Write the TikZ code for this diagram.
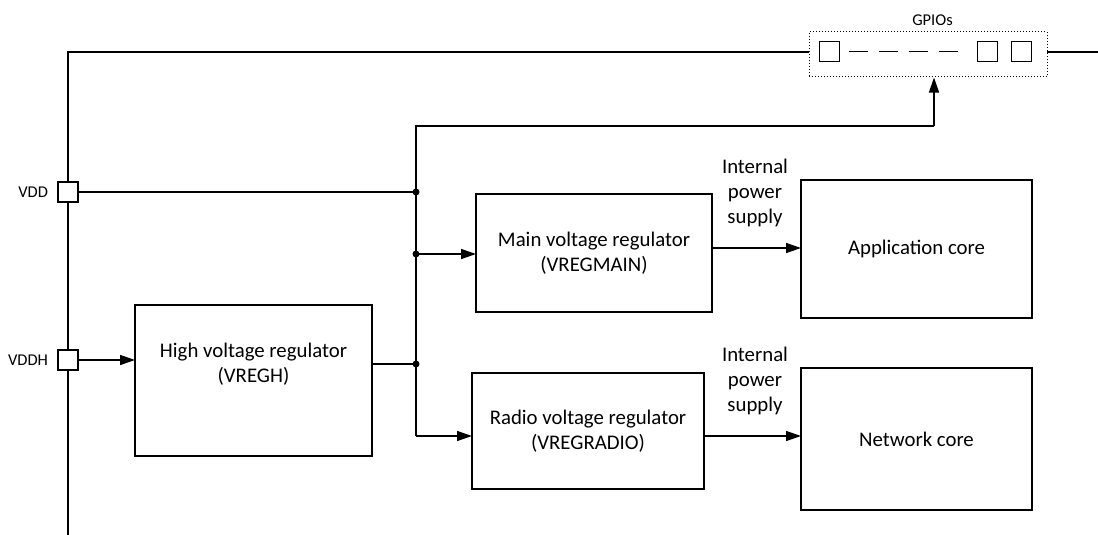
\documentclass[tikz,border=0pt]{standalone}
\usepackage{fontspec}
\setmainfont{Carlito}
\usetikzlibrary{arrows.meta}
\begin{document}
\begin{tikzpicture}[x=1pt,y=-1pt,
  line width=1.4pt,
  arr/.style={-{Triangle[length=15pt,width=10pt]}},
  blk/.style={draw,rectangle,inner sep=0pt,outer sep=0pt},
  pin/.style={draw,fill=white,rectangle,minimum width=20pt,minimum height=20pt,inner sep=0pt,outer sep=0pt},
  big/.style={font=\fontsize{20.8}{25}\selectfont,align=center},
  small/.style={font=\fontsize{16.5}{19}\selectfont},
  dot/.style={circle,fill=black,inner sep=0pt,minimum size=7pt}
]
\useasboundingbox (0,0) rectangle (1098,535);
% left rail
\coordinate (railtop) at (68,52);
\coordinate (railbot) at (68,535);
\coordinate (gpioin) at (809,52);
\coordinate (gpioout) at (1047,52);
\coordinate (railend) at (1098,52);
\draw (railbot) -- (railtop) -- (gpioin);
\draw (gpioout) -- (railend);
% GPIO box
\node[draw,dotted,line width=1pt,rectangle,minimum width=238pt,minimum height=45pt,inner sep=0pt] (gpio) at (928,54.5) {};
\node[small] (gpiolbl) at (932.5,20) {GPIOs};
\node[pin,line width=1pt] (g1) at (829.5,52) {};
\node[pin,line width=1pt] (g2) at (987,52) {};
\node[pin,line width=1pt] (g3) at (1021,52) {};
\coordinate (dstart) at (849,52);
\coordinate (dend) at (958,52);
\draw[line width=1pt,dash pattern=on 19pt off 11pt] (dstart) -- (dend);
% pins
\node[pin] (vdd) at (68,192) {};
\node[pin] (vddh) at (68,360) {};
\node[small,anchor=east] (vddlbl) at (52,192) {VDD};
\node[small,anchor=east] (vddhlbl) at (52,360) {VDDH};
% boxes
\node[blk,minimum width=237pt,minimum height=151pt] (hvr) at (253.5,380.5) {};
\node[big] (hvrtxt) at (253.5,364) {High voltage regulator\\(VREGH)};
\node[blk,big,minimum width=236pt,minimum height=118pt] (mvr) at (594,253) {Main voltage regulator\\(VREGMAIN)};
\node[blk,big,minimum width=232pt,minimum height=116pt] (rvr) at (588,431) {Radio voltage regulator\\(VREGRADIO)};
\node[blk,big,minimum width=231pt,minimum height=138pt] (app) at (916.5,249) {Application core};
\node[blk,big,minimum width=231pt,minimum height=142pt] (net) at (916.5,439) {Network core};
% junctions
\coordinate (jtop) at (416,126);
\coordinate (jvdd) at (416,192);
\coordinate (jmain) at (416,254);
\coordinate (jhvr) at (416,364);
\coordinate (jrad) at (416,436);
\coordinate (gup) at (934,126);
\node[dot] (d1) at (jvdd) {};
\node[dot] (d2) at (jmain) {};
\node[dot] (d3) at (jhvr) {};
% connectors
\draw (vdd.east) -- (jvdd);
\draw[arr] (vddh.east) -- (hvr.west |- vddh.east);
\draw (hvr.east |- jhvr) -- (jhvr);
\draw (jrad) -- (jtop) -- (gup);
\draw[arr] (gup) -- (gpio.south -| gup);
\draw[arr] (jmain) -- (mvr.west |- jmain);
\draw[arr] (jrad) -- (rvr.west |- jrad);
\draw[arr] (mvr.east |- 0,248) -- (app.west |- 0,248);
\draw[arr] (rvr.east |- 0,436) -- (net.west |- 0,436);
% labels
\node[big] (ips1) at (755,193) {Internal\\power\\supply};
\node[big] (ips2) at (755,381) {Internal\\power\\supply};
\end{tikzpicture}
\end{document}
